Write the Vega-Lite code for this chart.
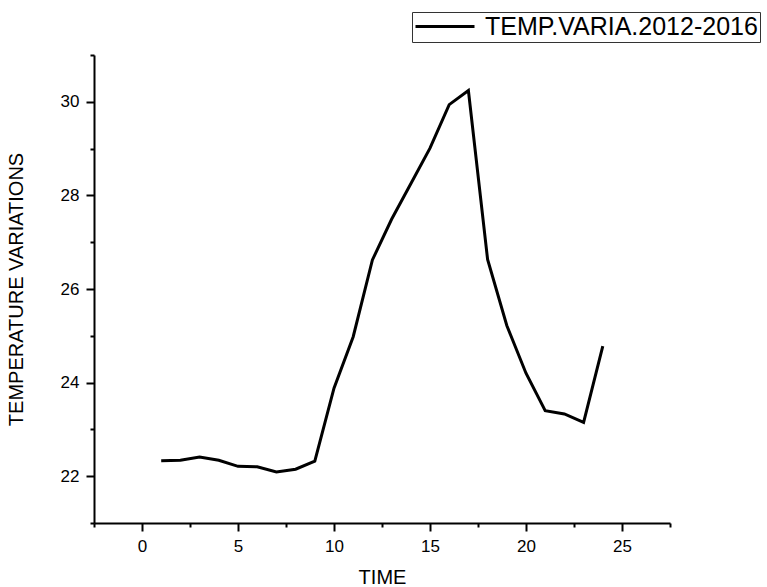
{
  "$schema": "https://vega.github.io/schema/vega-lite/v6.json",
  "width": 576,
  "height": 468,
  "autosize": {"type": "none"},
  "padding": {"left": 94, "top": 55, "right": 97, "bottom": 64},
  "background": "white",
  "config": {
    "view": {"stroke": null},
    "font": "Liberation Sans",
    "axis": {
      "grid": false,
      "domainColor": "black",
      "domainWidth": 2,
      "tickColor": "black",
      "tickWidth": 2,
      "labelColor": "black",
      "titleColor": "black",
      "labelFont": "Liberation Sans",
      "titleFont": "Liberation Sans",
      "titleFontWeight": "normal"
    }
  },
  "data": {
    "values": [
      {"time": 1, "temp": 22.33, "series": "TEMP.VARIA.2012-2016"},
      {"time": 2, "temp": 22.34, "series": "TEMP.VARIA.2012-2016"},
      {"time": 3, "temp": 22.41, "series": "TEMP.VARIA.2012-2016"},
      {"time": 4, "temp": 22.34, "series": "TEMP.VARIA.2012-2016"},
      {"time": 5, "temp": 22.21, "series": "TEMP.VARIA.2012-2016"},
      {"time": 6, "temp": 22.2, "series": "TEMP.VARIA.2012-2016"},
      {"time": 7, "temp": 22.09, "series": "TEMP.VARIA.2012-2016"},
      {"time": 8, "temp": 22.15, "series": "TEMP.VARIA.2012-2016"},
      {"time": 9, "temp": 22.32, "series": "TEMP.VARIA.2012-2016"},
      {"time": 10, "temp": 23.88, "series": "TEMP.VARIA.2012-2016"},
      {"time": 11, "temp": 24.98, "series": "TEMP.VARIA.2012-2016"},
      {"time": 12, "temp": 26.62, "series": "TEMP.VARIA.2012-2016"},
      {"time": 13, "temp": 27.49, "series": "TEMP.VARIA.2012-2016"},
      {"time": 14, "temp": 28.25, "series": "TEMP.VARIA.2012-2016"},
      {"time": 15, "temp": 29.01, "series": "TEMP.VARIA.2012-2016"},
      {"time": 16, "temp": 29.94, "series": "TEMP.VARIA.2012-2016"},
      {"time": 17, "temp": 30.24, "series": "TEMP.VARIA.2012-2016"},
      {"time": 18, "temp": 26.63, "series": "TEMP.VARIA.2012-2016"},
      {"time": 19, "temp": 25.22, "series": "TEMP.VARIA.2012-2016"},
      {"time": 20, "temp": 24.2, "series": "TEMP.VARIA.2012-2016"},
      {"time": 21, "temp": 23.4, "series": "TEMP.VARIA.2012-2016"},
      {"time": 22, "temp": 23.33, "series": "TEMP.VARIA.2012-2016"},
      {"time": 23, "temp": 23.15, "series": "TEMP.VARIA.2012-2016"},
      {"time": 24, "temp": 24.78, "series": "TEMP.VARIA.2012-2016"}
    ]
  },
  "layer": [
    {
      "mark": {"type": "line", "strokeWidth": 3, "strokeJoin": "miter"},
      "encoding": {
        "x": {
          "field": "time",
          "type": "quantitative",
          "scale": {"domain": [-2.5, 27.5], "nice": false, "zero": false},
          "axis": {
            "orient": "bottom",
            "values": [0, 5, 10, 15, 20, 25],
            "tickSize": 8,
            "labelFontSize": 17,
            "labelPadding": 7,
            "title": "TIME",
            "titleFontSize": 20,
            "titleX": 288,
            "titleY": 60,
            "titleBaseline": "alphabetic",
            "titleAlign": "center"
          }
        },
        "y": {
          "field": "temp",
          "type": "quantitative",
          "scale": {"domain": [21, 31], "nice": false, "zero": false},
          "axis": {
            "orient": "left",
            "values": [22, 24, 26, 28, 30],
            "tickSize": 8,
            "labelFontSize": 17,
            "labelPadding": 7,
            "title": "TEMPERATURE VARIATIONS",
            "titleFontSize": 20,
            "titleAngle": -90,
            "titleX": -72,
            "titleY": 234,
            "titleBaseline": "alphabetic",
            "titleAlign": "center"
          }
        },
        "color": {
          "field": "series",
          "type": "nominal",
          "scale": {"range": ["black"]},
          "legend": {
            "title": null,
            "orient": "none",
            "legendX": 318,
            "legendY": -43,
            "symbolType": "stroke",
            "symbolSize": 3481,
            "symbolStrokeWidth": 3,
            "symbolOffset": 0,
            "labelOffset": 9,
            "labelFontSize": 25,
            "labelFont": "Liberation Sans",
            "labelColor": "black",
            "labelLimit": 400,
            "clipHeight": 25,
            "strokeColor": "#333333",
            "fillColor": "white",
            "padding": 2
          }
        }
      }
    },
    {
      "mark": {"type": "point", "opacity": 0},
      "encoding": {
        "x": {
          "field": "time",
          "type": "quantitative",
          "axis": {
            "orient": "bottom",
            "values": [-2.5, 2.5, 7.5, 12.5, 17.5, 22.5, 27.5],
            "tickSize": 4,
            "labels": false,
            "domain": false,
            "title": null
          }
        },
        "y": {
          "field": "temp",
          "type": "quantitative",
          "axis": {
            "orient": "left",
            "values": [21, 23, 25, 27, 29, 31],
            "tickSize": 4,
            "labels": false,
            "domain": false,
            "title": null
          }
        }
      }
    }
  ],
  "resolve": {"axis": {"x": "independent", "y": "independent"}}
}
